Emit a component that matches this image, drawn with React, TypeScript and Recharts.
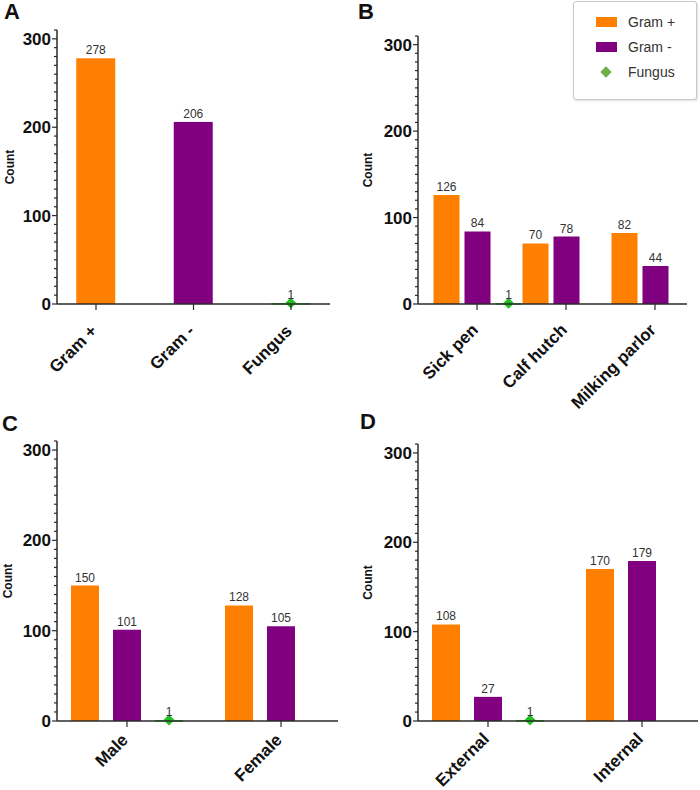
import React from "react";
import { BarChart, Bar, XAxis, YAxis, Cell, LabelList, Label } from "recharts";

const ORANGE = "#FF8000";
const PURPLE = "#800080";
const GREEN = "#22C022";
const LEGEND_GREEN = "#6DB04A";
const AXIS = "#2a2a2a";
const FONT = "Arial, 'Liberation Sans', sans-serif";

// A · isolates by type
const typeNames = ["Gram +", "Gram -", "Fungus"];
const typeCounts = [278, 206, 1];
const typeColors = [ORANGE, PURPLE, GREEN];

// B · by sampling site
const sites = ["Sick pen", "Calf hutch", "Milking parlor"];
const siteGramPos = [126, 70, 82];
const siteGramNeg = [84, 78, 44];
const siteFungus = [1, null, null];

// C · by sex
const sexes = ["Male", "Female"];
const sexGramPos = [150, 128];
const sexGramNeg = [101, 105];
const sexFungus = [1, null];

// D · by origin
const origins = ["External", "Internal"];
const originGramPos = [108, 170];
const originGramNeg = [27, 179];
const originFungus = [1, null];

const legendItems = [
  { name: "Gram +", kind: "rect", color: ORANGE },
  { name: "Gram -", kind: "rect", color: PURPLE },
  { name: "Fungus", kind: "diamond", color: LEGEND_GREEN },
];

const yTicks = Array.from({ length: 32 }, (_, i) => i * 10); // 0..310, minor every 10

const zip = (names: string[], pos: number[], neg: number[], fun: (number | null)[]) =>
  names.map((name, i) => ({ name, gramPos: pos[i], gramNeg: neg[i], fungus: fun[i] }));

function YTick({ x, y, payload }: any) {
  const major = payload.value % 100 === 0;
  return (
    <g>
      <line x1={x} x2={x - (major ? 5 : 3)} y1={y} y2={y} stroke={AXIS} strokeWidth={1.2} />
      {major && (
        <text x={x - 6} y={y} dy="0.36em" textAnchor="end" fontSize={17} fontWeight="bold" fill="#111" fontFamily={FONT}>
          {payload.value}
        </text>
      )}
    </g>
  );
}

function XTick({ x, y, payload, shift = 19 }: any) {
  const ax = x + 2;
  const ay = y + shift;
  return (
    <text x={ax} y={ay} textAnchor="end" transform={`rotate(-45 ${ax} ${ay})`} fontSize={17} fontWeight="bold" fill="#111" fontFamily={FONT}>
      {payload.value}
    </text>
  );
}

function FungusMark(props: any) {
  const { x, y, width, height, fill } = props;
  if (x == null || y == null || isNaN(y)) return <g />;
  const cx = x + width / 2;
  const r = 5.5;
  return (
    <g>
      <rect x={x} y={y} width={width} height={Math.max(height || 0, 1.5)} fill={fill} />
      <polygon points={`${cx},${y - r} ${cx + r},${y} ${cx},${y + r} ${cx - r},${y}`} fill={fill} />
    </g>
  );
}

const countLabel = (dx: number) => (
  <Label value="Count" angle={-90} position="center" dx={dx} fontSize={12} fontWeight="bold" fill="#111" fontFamily={FONT} />
);

const valueLabel = { position: "top" as const, offset: 4, fontSize: 12, fill: "#333", fontFamily: FONT };

function TypePanel() {
  const rows = typeNames.map((name, i) => ({ name, count: typeCounts[i] }));
  return (
    <BarChart width={350} height={390} data={rows} margin={{ top: 30, right: 20, left: 0, bottom: 0 }} style={{ overflow: "visible" }}>
      <XAxis
        dataKey="name"
        height={86}
        interval={0}
        padding={{ left: -9.75, right: -9.75 }}
        axisLine={{ stroke: AXIS, strokeWidth: 1.5 }}
        tickLine={{ stroke: AXIS, strokeWidth: 1.2 }}
        tick={<XTick shift={20} />}
      />
      <YAxis
        width={57}
        domain={[0, 310]}
        ticks={yTicks}
        interval={0}
        tickSize={0}
        tickMargin={0}
        tickLine={false}
        axisLine={{ stroke: AXIS, strokeWidth: 1.5 }}
        tick={<YTick />}
      >
        {countLabel(-19)}
      </YAxis>
      <Bar
        dataKey="count"
        barSize={39}
        isAnimationActive={false}
        shape={(p: any) =>
          p.payload.name === "Fungus" ? <FungusMark {...p} /> : <rect x={p.x} y={p.y} width={p.width} height={p.height} fill={p.fill} />
        }
      >
        {rows.map((r, i) => (
          <Cell key={r.name} fill={typeColors[i]} />
        ))}
        <LabelList dataKey="count" {...valueLabel} />
      </Bar>
    </BarChart>
  );
}

function GroupPanel({ rows, width, height, top, right, yWidth, xHeight, pad, barSize, barGap, labelDx, tickShift }: any) {
  return (
    <BarChart
      width={width}
      height={height}
      data={rows}
      margin={{ top, right, left: 0, bottom: 0 }}
      barGap={barGap}
      barSize={barSize}
      style={{ overflow: "visible" }}
    >
      <XAxis
        dataKey="name"
        height={xHeight}
        interval={0}
        padding={pad}
        axisLine={{ stroke: AXIS, strokeWidth: 1.5 }}
        tickLine={{ stroke: AXIS, strokeWidth: 1.2 }}
        tick={<XTick shift={tickShift} />}
      />
      <YAxis
        width={yWidth}
        domain={[0, 310]}
        ticks={yTicks}
        interval={0}
        tickSize={0}
        tickMargin={0}
        tickLine={false}
        axisLine={{ stroke: AXIS, strokeWidth: 1.5 }}
        tick={<YTick />}
      >
        {countLabel(labelDx)}
      </YAxis>
      <Bar dataKey="gramPos" name="Gram +" fill={ORANGE} isAnimationActive={false}>
        <LabelList dataKey="gramPos" {...valueLabel} />
      </Bar>
      <Bar dataKey="gramNeg" name="Gram -" fill={PURPLE} isAnimationActive={false}>
        <LabelList dataKey="gramNeg" {...valueLabel} />
      </Bar>
      <Bar dataKey="fungus" name="Fungus" fill={GREEN} isAnimationActive={false} shape={(p: any) => (p.payload.fungus == null ? <g /> : <FungusMark {...p} />)}>
        <LabelList dataKey="fungus" {...valueLabel} />
      </Bar>
    </BarChart>
  );
}

function LegendBox() {
  return (
    <div
      style={{
        position: "absolute",
        left: 573,
        top: 1,
        width: 122,
        height: 97,
        border: "1px solid #c8c8c8",
        borderRadius: 3,
        boxShadow: "1px 1px 2px rgba(0,0,0,0.12)",
        background: "#fff",
        fontFamily: FONT,
        fontSize: 14,
        color: "#333",
      }}
    >
      {legendItems.map((it, i) => (
        <div key={it.name} style={{ position: "absolute", left: 0, top: 11 + i * 25, height: 18, width: 120 }}>
          {it.kind === "rect" ? (
            <div style={{ position: "absolute", left: 22, top: 4, width: 21, height: 10, background: it.color }} />
          ) : (
            <div style={{ position: "absolute", left: 28, top: 5, width: 8, height: 8, background: it.color, transform: "rotate(45deg)" }} />
          )}
          <div style={{ position: "absolute", left: 54, top: 0, lineHeight: "18px", whiteSpace: "nowrap" }}>{it.name}</div>
        </div>
      ))}
    </div>
  );
}

const panelLetter = (text: string, left: number, top: number) => (
  <div style={{ position: "absolute", left, top, fontFamily: FONT, fontWeight: "bold", fontSize: 22, lineHeight: "22px", color: "#111" }}>
    {text}
  </div>
);

export default function App() {
  return (
    <div style={{ position: "absolute", left: 0, top: 0, width: 700, height: 790, background: "#fff", overflow: "hidden" }}>
      <div style={{ position: "absolute", left: 0, top: 0 }}>
        <TypePanel />
      </div>
      <div style={{ position: "absolute", left: 350, top: 0 }}>
        <GroupPanel
          rows={zip(sites, siteGramPos, siteGramNeg, siteFungus)}
          width={350}
          height={420}
          top={36}
          right={13}
          yWidth={68}
          xHeight={116}
          pad={{ left: 14.5, right: -12.5 }}
          barSize={26}
          barGap={5}
          labelDx={-16}
          tickShift={19}
        />
      </div>
      <div style={{ position: "absolute", left: 0, top: 390 }}>
        <GroupPanel
          rows={zip(sexes, sexGramPos, sexGramNeg, sexFungus)}
          width={350}
          height={400}
          top={51}
          right={12}
          yWidth={57}
          xHeight={69}
          pad={{ left: -7, right: -20 }}
          barSize={28}
          barGap={14}
          labelDx={-21}
          tickShift={12}
        />
      </div>
      <div style={{ position: "absolute", left: 350, top: 390 }}>
        <GroupPanel
          rows={zip(origins, originGramPos, originGramNeg, originFungus)}
          width={350}
          height={400}
          top={54}
          right={2}
          yWidth={68}
          xHeight={69}
          pad={{ left: -7, right: -21 }}
          barSize={28}
          barGap={14}
          labelDx={-16}
          tickShift={11}
        />
      </div>
      <LegendBox />
      {panelLetter("A", 4, 1)}
      {panelLetter("B", 358, 1)}
      {panelLetter("C", 2, 413)}
      {panelLetter("D", 360, 411)}
    </div>
  );
}
